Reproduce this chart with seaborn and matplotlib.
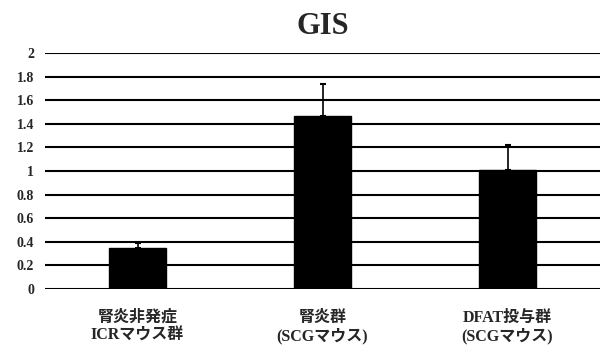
import matplotlib
matplotlib.use("Agg")
import matplotlib.pyplot as plt
import seaborn as sns
import pandas as pd

groups = ["腎炎非発症\nICRマウス群", "腎炎群\n(SCGマウス)", "DFAT投与群\n(SCGマウス)"]
means = [0.35, 1.47, 1.01]
errors = [0.04, 0.27, 0.21]
yticks = [0, 0.2, 0.4, 0.6, 0.8, 1, 1.2, 1.4, 1.6, 1.8, 2]
title = "GIS"

sns.set_theme(style="white")
plt.rcParams["font.family"] = ["Liberation Serif", "Noto Sans CJK JP"]
plt.rcParams["font.weight"] = "bold"

df = pd.DataFrame({"group": groups, "gis": means})

fig = plt.figure(figsize=(6.01, 3.45), dpi=100)
ax = fig.add_axes([45 / 601, 1 - 289 / 345, 555 / 601, 236 / 345])

for y in yticks:
    ax.axhline(y, color="black", lw=1.5, zorder=0)

sns.barplot(data=df, x="group", y="gis", color="black", width=0.31,
            edgecolor="black", ax=ax, zorder=2, errorbar=None)
ax.errorbar(range(len(groups)), means, yerr=[[0] * len(errors), errors],
            fmt="none", ecolor="black", elinewidth=1.2, capsize=2.5,
            capthick=1.5, zorder=1)

ax.set_xlim(-0.5, 2.5)
ax.set_ylim(0, 2)
ax.set_yticks(yticks)
ax.set_yticklabels([f"{v:g}" for v in yticks], fontsize=10, fontweight="bold")
ax.set_xticks(range(len(groups)))
ax.set_xticklabels(groups, fontsize=11.5, fontweight="bold", linespacing=1.15)
ax.tick_params(axis="y", length=0, pad=8)
ax.tick_params(axis="x", length=0, pad=15)
ax.set_xlabel("")
ax.set_ylabel("")
for s in ax.spines.values():
    s.set_visible(False)
ax.grid(False)

ax.set_title(title, fontsize=22, fontweight="bold", family="Liberation Serif",
             pad=14)

fig.savefig("out.png", dpi=100)
